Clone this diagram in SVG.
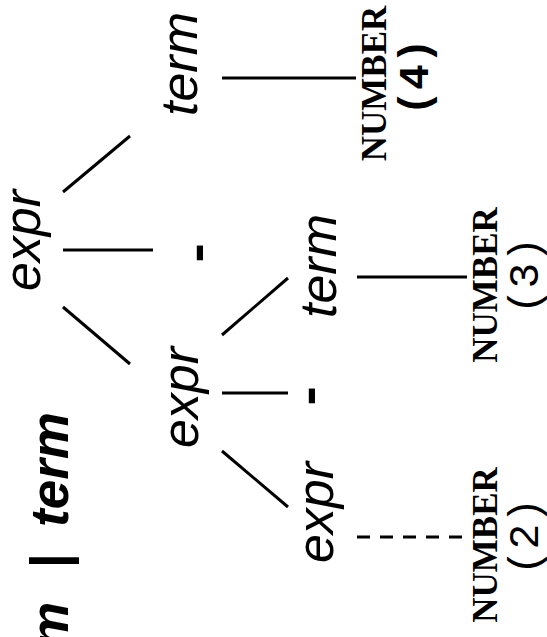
<svg xmlns="http://www.w3.org/2000/svg" width="547" height="637" viewBox="0 0 547 637">
  <style>
    .nt { font-family: "Liberation Sans", Arial, sans-serif; font-style: italic; font-size: 52px; fill: #000; text-anchor: middle; }
    .op { font-family: "Liberation Mono", "Courier New", monospace; font-weight: bold; font-size: 52px; fill: #000; text-anchor: middle; }
    .tok { font-family: "Liberation Serif", "Times New Roman", serif; font-weight: bold; font-size: 35px; fill: #000; text-anchor: middle; }
    .val { font-family: "Liberation Mono", "Courier New", monospace; font-size: 43px; fill: #000; text-anchor: middle; }
    .val.b { font-weight: bold; }
    .title { font-family: "Liberation Sans", Arial, sans-serif; font-style: italic; font-weight: bold; font-size: 53px; fill: #000; }
    .edge { stroke: #000; stroke-width: 3; fill: none; }
    .dash { stroke-dasharray: 13 10; }
  </style>
  <rect width="547" height="637" fill="#fff"/>

  <!-- grammar rule, running off the lower edge -->
  <text id="rule" class="title" transform="translate(68,0) rotate(-90)"><tspan x="-649">m</tspan><tspan x="-569">|</tspan><tspan x="-527">term</tspan></text>

  <!-- parse tree edges -->
  <g id="edges">
    <line class="edge" x1="63" y1="192" x2="130" y2="136"/>
    <line class="edge" x1="63" y1="250" x2="153" y2="250"/>
    <line class="edge" x1="63" y1="307" x2="130" y2="364"/>
    <line class="edge" x1="222" y1="78" x2="356" y2="78"/>
    <line class="edge" x1="222" y1="335" x2="288" y2="278"/>
    <line class="edge" x1="222" y1="393" x2="288" y2="393"/>
    <line class="edge" x1="222" y1="451" x2="288" y2="507"/>
    <line class="edge" x1="357" y1="277" x2="467" y2="277"/>
    <line class="edge dash" x1="357" y1="537" x2="463" y2="537"/>
  </g>

  <!-- parse tree nodes (drawn rotated, reading upwards) -->
  <g id="expr-root"><text class="nt" transform="translate(40,240.5) rotate(-90)">expr</text></g>
  <g id="term-right"><text class="nt" transform="translate(197,64) rotate(-90)">term</text></g>
  <g id="minus-top"><text class="op" transform="translate(213,253) rotate(-90)">-</text></g>
  <g id="expr-inner"><text class="nt" transform="translate(198,397.5) rotate(-90)">expr</text></g>
  <g id="term-inner"><text class="nt" transform="translate(336,266) rotate(-90)">term</text></g>
  <g id="minus-inner"><text class="op" transform="translate(325,396) rotate(-90)">-</text></g>
  <g id="expr-leaf"><text class="nt" transform="translate(333,512.5) rotate(-90)">expr</text></g>

  <g id="number-4">
    <text class="tok" transform="translate(386,83.5) rotate(-90)">NUMBER</text>
    <text class="val b" transform="translate(428,77) rotate(-90)">(4)</text>
  </g>
  <g id="number-3">
    <text class="tok" transform="translate(497,285) rotate(-90)">NUMBER</text>
    <text class="val" transform="translate(538,275.5) rotate(-90)">(3)</text>
  </g>
  <g id="number-2">
    <text class="tok" transform="translate(497,545) rotate(-90)">NUMBER</text>
    <text class="val" transform="translate(538,536.5) rotate(-90)">(2)</text>
  </g>
</svg>
